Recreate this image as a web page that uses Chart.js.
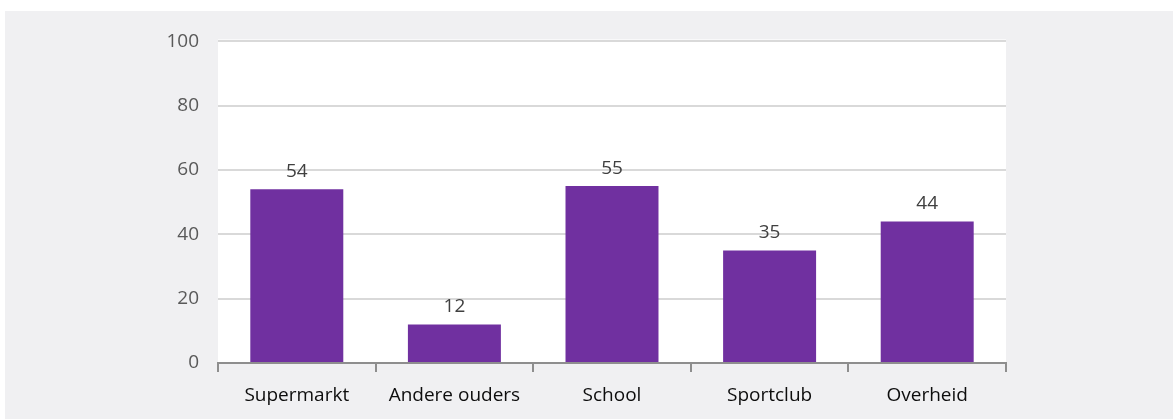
<!DOCTYPE html>
<html>
<head>
<meta charset="utf-8">
<script src="https://cdn.jsdelivr.net/npm/chart.js@4/dist/chart.umd.min.js"></script>
<style>
  html, body { margin: 0; padding: 0; background: #ffffff; }
  #wrap { position: absolute; left: 5px; top: 11px; width: 1168px; height: 408px; background: #f0f0f2; }
  canvas { display: block; }
</style>
</head>
<body>
<div id="wrap"><canvas id="c" width="1168" height="408"></canvas></div>
<script>
const categories = ["Supermarkt", "Andere ouders", "School", "Sportclub", "Overheid"];
const values = [54, 12, 55, 35, 44];
const yTicks = [0, 20, 40, 60, 80, 100];

const FONT = "'Open Sans', 'DejaVu Sans', sans-serif";

const plotBg = {
  id: 'plotBg',
  beforeDraw(chart) {
    const { ctx, chartArea: a } = chart;
    ctx.save();
    ctx.fillStyle = '#ffffff';
    ctx.fillRect(a.left, a.top - 2, a.right - a.left, a.bottom - a.top + 2);
    ctx.restore();
  }
};

const dataLabels = {
  id: 'dataLabels',
  afterDatasetsDraw(chart) {
    const { ctx } = chart;
    const meta = chart.getDatasetMeta(0);
    ctx.save();
    ctx.font = "19px " + FONT;
    ctx.fillStyle = '#404040';
    ctx.textAlign = 'center';
    ctx.textBaseline = 'middle';
    meta.data.forEach((bar, i) => {
      ctx.fillText(String(values[i]), bar.x, bar.y - 18);
    });
    ctx.restore();
  }
};

new Chart(document.getElementById('c'), {
  type: 'bar',
  data: {
    labels: categories,
    datasets: [{
      data: values,
      backgroundColor: '#7030a0',
      borderWidth: 0,
      barPercentage: 0.59,
      categoryPercentage: 1.0
    }]
  },
  options: {
    responsive: false,
    animation: false,
    devicePixelRatio: 1,
    layout: { padding: { left: 0, top: 28, right: 167, bottom: 0 } },
    plugins: { legend: { display: false }, tooltip: { enabled: false } },
    scales: {
      x: {
        grid: {
          offset: true,
          drawOnChartArea: false,
          drawTicks: true,
          tickLength: 9,
          color: '#8e8e8e',
          lineWidth: 2
        },
        border: { display: true, color: '#8e8e8e', width: 2 },
        ticks: {
          color: '#0d0d0d',
          font: { family: FONT, size: 19 },
          padding: 12,
          maxRotation: 0,
          autoSkip: false
        },
        afterFit(scale) { scale.height = 56; }
      },
      y: {
        min: 0,
        max: 100,
        afterBuildTicks(scale) { scale.ticks = yTicks.map(v => ({ value: v })); },
        grid: {
          drawTicks: false,
          color: (c) => c.tick && c.tick.value === 0 ? 'rgba(0,0,0,0)' : '#d9d9d9',
          lineWidth: 2
        },
        border: { display: false },
        ticks: {
          color: '#595959',
          font: { family: FONT, size: 19 },
          padding: 19
        },
        afterFit(scale) { scale.width = 213; }
      }
    }
  },
  plugins: [plotBg, dataLabels]
});
</script>
</body>
</html>
